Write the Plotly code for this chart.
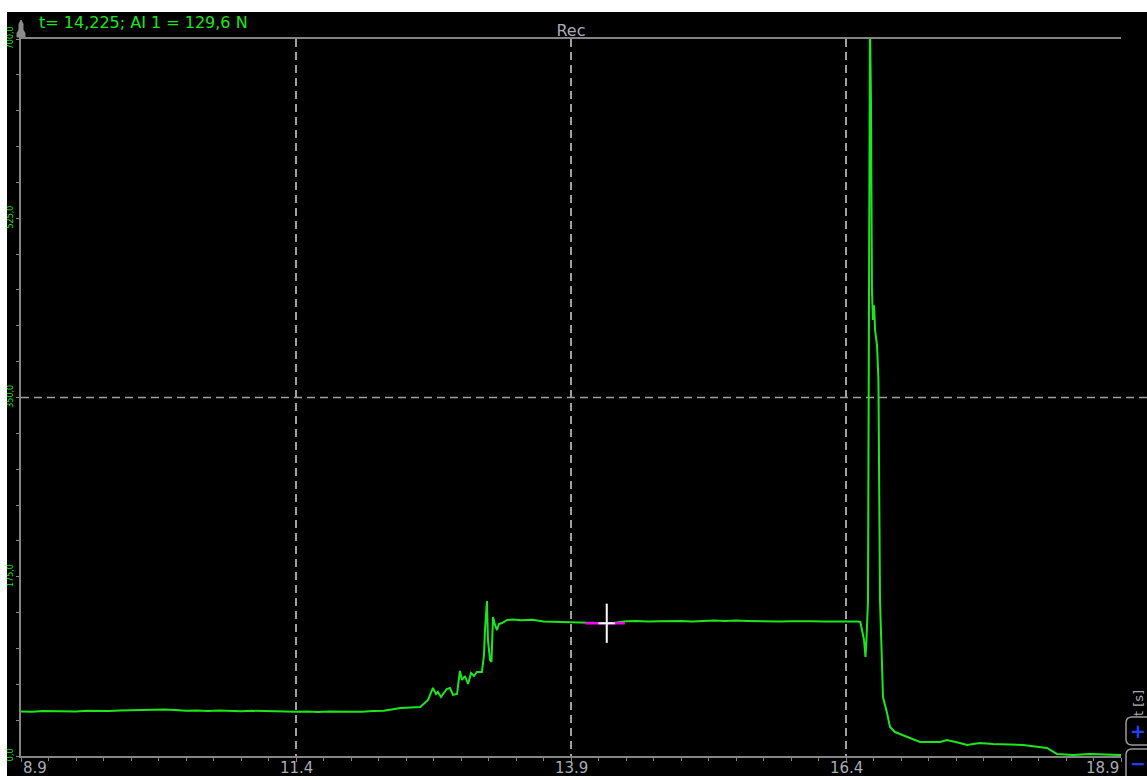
import plotly.graph_objects as go

# AI 1 force recording, time in s, force in N
t_base = [8.90, 9.00, 9.10, 9.20, 9.30, 9.40, 9.50, 9.60, 9.70, 9.80, 9.90, 10.00,
          10.10, 10.20, 10.30, 10.40, 10.50, 10.60, 10.70, 10.80, 10.90, 11.00,
          11.10, 11.20, 11.30, 11.40, 11.50, 11.60, 11.70, 11.80, 11.90, 12.00,
          12.10, 12.20]
f_base = [43.5, 43.3, 43.9, 43.6, 43.8, 43.4, 44.1, 43.7, 44.0, 44.3, 44.6, 45.2,
          45.6, 45.3, 44.8, 44.2, 44.5, 43.9, 44.3, 44.0, 43.6, 44.1, 43.8, 44.2,
          43.7, 43.2, 43.4, 43.0, 43.5, 43.2, 43.6, 43.3, 43.9, 44.2]

t_rise = [12.35, 12.45, 12.53, 12.60, 12.645, 12.673, 12.69, 12.718, 12.736, 12.77,
          12.80, 12.827, 12.864, 12.89, 12.909, 12.936, 12.964, 12.991, 13.018,
          13.045, 13.09, 13.109, 13.118, 13.136, 13.145, 13.164, 13.177, 13.191,
          13.209, 13.227, 13.245, 13.273, 13.318, 13.373]
f_rise = [46.9, 47.2, 47.8, 54.7, 66.4, 60.5, 62.5, 57.6, 60.5, 65.4, 66.4, 59.6,
          60.5, 83.0, 74.2, 78.1, 70.3, 81.0, 78.1, 82.0, 82.0, 98.6, 123.0, 151.3,
          113.3, 93.7, 91.8, 135.7, 127.9, 123.0, 128.9, 129.8, 132.8, 133.3]

t_plateau = [13.45, 13.55, 13.65, 13.75, 13.85, 13.95, 14.05, 14.15, 14.225, 14.30,
             14.40, 14.50, 14.60, 14.70, 14.80, 14.90, 15.00, 15.10, 15.20, 15.30,
             15.40, 15.50, 15.60, 15.70, 15.80, 15.90, 16.00, 16.10, 16.20, 16.30,
             16.40, 16.50, 16.53]
f_plateau = [132.6, 132.9, 131.4, 131.0, 131.3, 130.8, 130.4, 129.9, 129.6, 130.2,
             131.5, 131.8, 131.2, 131.6, 132.0, 131.7, 131.3, 131.9, 132.4, 131.8,
             132.3, 131.9, 131.5, 131.8, 131.4, 131.6, 131.2, 131.5, 131.3, 131.6,
             131.2, 131.4, 130.9]

t_peak = [16.564, 16.577, 16.586, 16.600, 16.609, 16.618, 16.627, 16.636, 16.645,
          16.655, 16.664, 16.673, 16.682, 16.695, 16.709, 16.727, 16.736]
f_peak = [113.3, 96.7, 113.0, 152.0, 445.0, 718.0, 640.0, 455.0, 425.7, 440.0,
          416.0, 406.0, 401.0, 367.0, 152.0, 90.8, 57.6]

t_decay = [16.773, 16.80, 16.845, 16.955, 17.073, 17.255, 17.318, 17.436, 17.50,
           17.618, 17.736, 18.009, 18.227, 18.318, 18.464, 18.618, 18.755, 18.873, 18.90]
f_decay = [42.0, 28.3, 23.4, 18.5, 13.7, 13.7, 15.6, 12.7, 10.7, 12.7, 11.7, 10.7,
           7.8, 2.0, 1.0, 2.0, 1.5, 1.0, 0.9]

cursor_t = 14.225
cursor_f = 129.6
cursor_span = [14.03, 14.39]

x_ticks = [8.9, 11.4, 13.9, 16.4, 18.9]
x_ticktext = ['8.9', '11.4', '13.9', '16.4', '18.9']
y_ticks = [0, 175, 350, 525, 700]
y_ticktext = ['0,0', '175,0', '350,0', '525,0', '700,0']

t_all = t_base + t_rise + t_plateau + t_peak + t_decay
f_all = f_base + f_rise + f_plateau + f_peak + f_decay

W, H = 1147, 776
L, R, T, B = 21, 26, 39, 20
PW, PH = W - L - R, H - T - B


def px(x):
    return (x - L) / PW


def py(y):
    return (H - B - y) / PH


FONT = 'DejaVu Sans'
GRID = '#a0a0a0'
AXIS = '#858585'
LABEL = '#a8adb5'
GREEN = '#1ee61e'

fig = go.Figure()
fig.add_trace(go.Scatter(x=t_all, y=f_all, mode='lines',
                         line=dict(color=GREEN, width=2), hoverinfo='skip'))
fig.add_trace(go.Scatter(x=cursor_span, y=[cursor_f, cursor_f], mode='lines',
                         line=dict(color='#ff00ff', width=2.5), hoverinfo='skip'))
fig.add_trace(go.Scatter(x=[cursor_t], y=[cursor_f], mode='markers',
                         marker=dict(symbol='line-ns', size=28,
                                     line=dict(color='white', width=2)), hoverinfo='skip'))
fig.add_trace(go.Scatter(x=[cursor_t], y=[cursor_f], mode='markers',
                         marker=dict(symbol='line-ew', size=12,
                                     line=dict(color='white', width=2)), hoverinfo='skip'))

shapes = [
    # middle dashed line runs past the right edge
    dict(type='line', xref='paper', yref='paper', x0=0, x1=px(W), y0=0.5, y1=0.5,
         line=dict(color=GRID, width=1.5, dash='8px,5px'), layer='below'),
    # white frame strips
    dict(type='rect', xref='paper', yref='paper', x0=px(-5), x1=px(7), y0=py(H + 10), y1=py(-10),
         fillcolor='white', line=dict(width=0), layer='above'),
    dict(type='rect', xref='paper', yref='paper', x0=px(-5), x1=px(W + 10), y0=py(12), y1=py(-10),
         fillcolor='white', line=dict(width=0), layer='above'),
]

# y axis pin
pin = [(21, 20), (23, 24), (23, 30), (25, 33), (25, 37), (17, 37), (17, 33), (19, 30), (19, 24)]
shapes.append(dict(type='path', xref='paper', yref='paper',
                   path='M ' + ' L '.join(f'{px(a)},{py(b)}' for a, b in pin) + ' Z',
                   fillcolor='#8c8c8c', line=dict(color='#8c8c8c', width=1), layer='above'))


def rbox(x0, y0, x1, y1, r=6):
    pts = (f'M {px(x0 + r)},{py(y0)} L {px(x1)},{py(y0)} L {px(x1)},{py(y1)} '
           f'L {px(x0 + r)},{py(y1)} Q {px(x0)},{py(y1)} {px(x0)},{py(y1 - r)} '
           f'L {px(x0)},{py(y0 + r)} Q {px(x0)},{py(y0)} {px(x0 + r)},{py(y0)} Z')
    return dict(type='path', xref='paper', yref='paper', path=pts,
                fillcolor='black', line=dict(color='#9a9a9a', width=1.5), layer='above')


shapes.append(rbox(1126, 717, W + 4, 745))
shapes.append(rbox(1126, 749, W + 4, H + 6))

annotations = [
    dict(text='t= 14,225; AI 1 = 129,6 N', xref='paper', yref='paper',
         x=px(37), y=py(22), xanchor='left', yanchor='middle', showarrow=False,
         font=dict(family=FONT, size=16, color=GREEN)),
    dict(text='t [s]', xref='paper', yref='paper', x=px(1138), y=py(703),
         xanchor='center', yanchor='middle',
         textangle=-90, showarrow=False, font=dict(family=FONT, size=13, color=LABEL)),
    dict(text='<b>+</b>', xref='paper', yref='paper', x=px(1138), y=py(731),
         xanchor='center', yanchor='middle',
         showarrow=False, font=dict(family=FONT, size=19, color='#2040ff')),
    dict(text='<b>−</b>', xref='paper', yref='paper', x=px(1138), y=py(763),
         xanchor='center', yanchor='middle',
         showarrow=False, font=dict(family=FONT, size=19, color='#2040ff')),
]
for i, (v, s) in enumerate(zip(x_ticks, x_ticktext)):
    anchor = 'left' if i == 0 else ('right' if i == len(x_ticks) - 1 else 'center')
    annotations.append(dict(text=s, xref='x', yref='paper', x=v, y=py(757),
                            xanchor=anchor, yanchor='top', showarrow=False,
                            font=dict(family=FONT, size=15, color=LABEL)))

fig.update_layout(
    width=W, height=H,
    margin=dict(l=L, r=R, t=T, b=B),
    paper_bgcolor='black', plot_bgcolor='black',
    showlegend=False,
    title=dict(text='Rec', x=0.5, xref='paper', xanchor='center',
               y=1 - 30 / H, yref='container', yanchor='middle',
               font=dict(family=FONT, size=16, color=LABEL)),
    shapes=shapes,
    annotations=annotations,
)
fig.update_xaxes(range=[8.9, 18.9], tickmode='array', tickvals=x_ticks, showticklabels=False,
                 showgrid=True, gridcolor=GRID, gridwidth=1.5, griddash='8px,5px',
                 showline=True, linecolor=AXIS, linewidth=2, mirror=True,
                 ticks='outside', ticklen=4, tickcolor=AXIS,
                 minor=dict(dtick=0.25, tick0=8.9, ticks='outside', ticklen=3,
                            tickcolor=AXIS, showgrid=False),
                 zeroline=False, fixedrange=True, automargin=False)
fig.update_yaxes(range=[0, 700], tickmode='array', tickvals=y_ticks, ticktext=y_ticktext,
                 tickangle=-90, tickfont=dict(family=FONT, size=8, color=GREEN),
                 showgrid=False, showline=True, linecolor=AXIS, linewidth=2,
                 ticks='outside', ticklen=3, tickcolor=AXIS,
                 minor=dict(dtick=35, tick0=0, ticks='outside', ticklen=3, tickcolor=AXIS),
                 zeroline=False, fixedrange=True, automargin=False)

fig.write_html("out.html", config={'displayModeBar': False},
               post_script="document.body.style.margin='0';")
